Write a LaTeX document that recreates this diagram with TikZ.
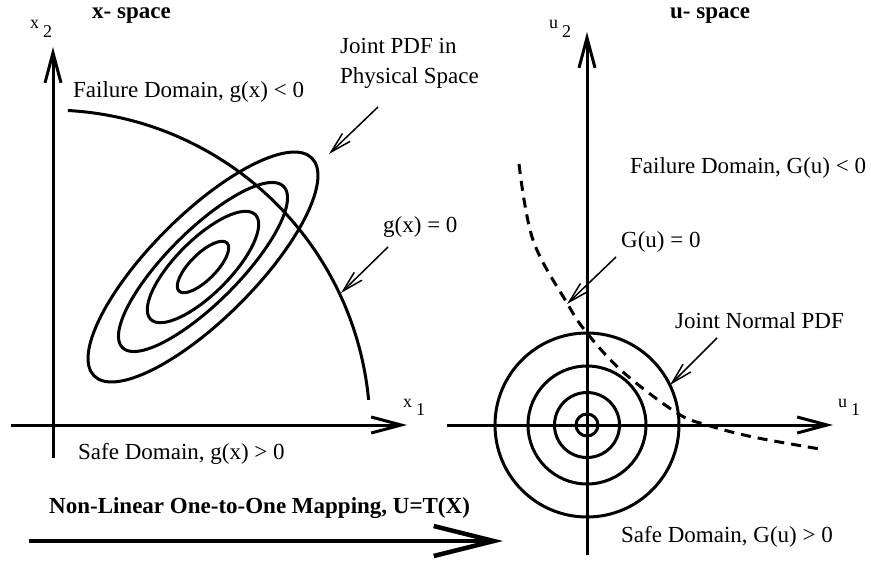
\documentclass[tikz,border=0pt]{standalone}
\usepackage{fontspec}
\setmainfont{Liberation Serif}
\usetikzlibrary{arrows.meta}
\begin{document}
\begin{tikzpicture}[x=1pt,y=-1pt,
  axis/.style={line width=3pt,-{Straight Barb[length=30pt,width=16pt]}},
  bigarrow/.style={line width=4.5pt,-{Straight Barb[length=60pt,width=30pt]}},
  curve/.style={line width=3pt},
  dcurve/.style={line width=3pt,dash pattern=on 10pt off 7pt},
  ptr/.style={line width=1.5pt,-{Straight Barb[length=21pt,width=11pt]}},
  lbl/.style={font=\fontsize{23}{28}\selectfont,anchor=base west,inner sep=0pt},
  ttl/.style={font=\fontsize{23}{28}\selectfont\bfseries,anchor=base west,inner sep=0pt},
  axl/.style={font=\fontsize{18}{20}\selectfont,anchor=base west,inner sep=0pt}]
\useasboundingbox (0,0) rectangle (871,565);

% ---------- x-space ----------
\coordinate (x2s) at (53,458);
\coordinate (x2e) at (53,47);
\coordinate (x1s) at (11,425);
\coordinate (x1e) at (407,425);
\draw[axis] (x2s) -- (x2e);
\draw[axis] (x1s) -- (x1e);

\node[ttl] (xsp) at (92,18) {x- space};
\node[axl] (x2l) at (30,28) {x\hspace{4pt}\raisebox{-9pt}{2}};
\node[axl] (x1l) at (403,407) {x\hspace{4pt}\raisebox{-8pt}{1}};
\node[lbl] (fdx) at (73,97) {Failure Domain, g(x) < 0};
\node[lbl] (sdx) at (78,459) {Safe Domain, g(x) > 0};

% limit state g(x)=0
\coordinate (gs) at (67.9,110.5);
\draw[curve] (gs) arc[start angle=86.8,end angle=5.4,radius=320pt];

% joint pdf ellipses
\coordinate (ec) at (203,267);
\draw[curve] (ec) ellipse [x radius=154pt,y radius=52pt,rotate=45];
\draw[curve] (ec) ellipse [x radius=114pt,y radius=36pt,rotate=45];
\draw[curve] (ec) ellipse [x radius=74pt,y radius=27pt,rotate=45];
\draw[curve] (ec) ellipse [x radius=34pt,y radius=13pt,rotate=45];

\node[lbl] (jp1) at (340,53) {Joint PDF in};
\node[lbl] (jp2) at (340,83) {Physical Space};
\coordinate (jpa) at (378,107);
\coordinate (jpb) at (329,154);
\draw[ptr] (jpa) -- (jpb);

\node[lbl] (gx) at (383,232) {g(x) = 0};
\coordinate (gxa) at (388,247);
\coordinate (gxb) at (341,293);
\draw[ptr] (gxa) -- (gxb);

% ---------- u-space ----------
\coordinate (u2s) at (587,555);
\coordinate (u2e) at (587,32);
\coordinate (u1s) at (447,425);
\coordinate (u1e) at (833,425);
\draw[axis] (u2s) -- (u2e);
\draw[axis] (u1s) -- (u1e);

\node[ttl] (usp) at (670,18) {u- space};
\node[axl] (u2l) at (549,28) {u\hspace{4pt}\raisebox{-9pt}{2}};
\node[axl] (u1l) at (838,407) {u\hspace{4pt}\raisebox{-8pt}{1}};
\node[lbl] (fdu) at (630,173) {Failure Domain, G(u) < 0};
\node[lbl] (sdu) at (621,542) {Safe Domain, G(u) > 0};

\coordinate (uc) at (587,425);
\draw[curve] (uc) circle[radius=92pt];
\draw[curve] (uc) circle[radius=59pt];
\draw[curve] (uc) circle[radius=32.5pt];
\draw[curve] (uc) circle[radius=11pt];

\draw[dcurve] plot[smooth,tension=0.6] coordinates
  {(519,164) (533,240) (567,303) (587,333) (623,372) (677,413) (707,425) (753,437) (820,449)};

\node[lbl] (gu) at (621,247) {G(u) = 0};
\coordinate (gua) at (616,257);
\coordinate (gub) at (567,304);
\draw[ptr] (gua) -- (gub);

\node[lbl] (jn) at (675,328) {Joint Normal PDF};
\coordinate (jna) at (717,338);
\coordinate (jnb) at (670,385);
\draw[ptr] (jna) -- (jnb);

% ---------- mapping ----------
\node[ttl] (map) at (49,513) {Non-Linear One-to-One Mapping, U=T(X)};
\coordinate (ms) at (29,541);
\coordinate (me) at (503,541);
\draw[bigarrow] (ms) -- (me);
\end{tikzpicture}
\end{document}
